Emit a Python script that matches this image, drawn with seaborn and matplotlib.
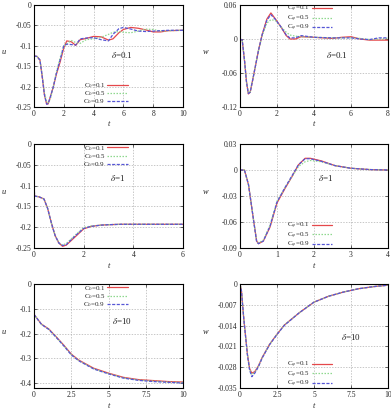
import numpy as np
import pandas as pd
import matplotlib
matplotlib.use("Agg")
import matplotlib.pyplot as plt
from matplotlib.ticker import FormatStrFormatter
import seaborn as sns

# ---- data ----
c_values = ["0.1", "0.5", "0.9"]

# delta = 0.1, u
tA = [0, 0.2, 0.4, 0.55, 0.7, 0.85, 0.95, 1.1, 1.3, 1.5, 1.75, 2.0, 2.2, 2.5, 2.8, 3.1,
      3.5, 4.0, 4.5, 5.0, 5.3, 5.7, 6.0, 6.5, 7.0, 7.5, 8.0, 8.5, 9.0, 10.0]
uA_01 = [-0.125, -0.126, -0.135, -0.175, -0.22, -0.243, -0.242, -0.225, -0.2, -0.17, -0.14, -0.105,
         -0.088, -0.09, -0.099, -0.085, -0.082, -0.077, -0.078, -0.086, -0.083, -0.068, -0.06,
         -0.055, -0.057, -0.061, -0.066, -0.066, -0.063, -0.062]
uA_05 = [-0.125, -0.126, -0.135, -0.172, -0.215, -0.238, -0.239, -0.23, -0.2, -0.165, -0.13, -0.1,
         -0.095, -0.087, -0.092, -0.094, -0.085, -0.083, -0.079, -0.072, -0.067, -0.065, -0.067,
         -0.068, -0.064, -0.059, -0.06, -0.064, -0.063, -0.062]
uA_09 = [-0.125, -0.126, -0.135, -0.175, -0.22, -0.243, -0.242, -0.225, -0.2, -0.168, -0.135, -0.1,
         -0.096, -0.097, -0.098, -0.083, -0.081, -0.08, -0.085, -0.088, -0.072, -0.058, -0.055,
         -0.059, -0.064, -0.065, -0.064, -0.063, -0.062, -0.062]

# delta = 0.1, w
tB = [0, 0.12, 0.25, 0.35, 0.45, 0.55, 0.7, 0.85, 1.0, 1.2, 1.45, 1.67, 1.9, 2.2, 2.5, 2.7,
      3.0, 3.3, 4.0, 5.0, 5.5, 6.0, 6.5, 7.0, 7.5, 8.0]
wB_01 = [0, -0.002, -0.04, -0.075, -0.097, -0.094, -0.07, -0.045, -0.02, 0.008, 0.035, 0.046,
         0.036, 0.022, 0.006, 0.0, 0.0, 0.004, 0.003, 0.001, 0.003, 0.004, 0.0, -0.002, -0.002, -0.002]
wB_05 = [0, -0.002, -0.04, -0.075, -0.095, -0.093, -0.07, -0.045, -0.02, 0.006, 0.028, 0.034,
         0.033, 0.022, 0.012, 0.007, 0.005, 0.004, 0.003, 0.002, 0.002, 0.002, 0.001, -0.001, 0.0, 0.001]
wB_09 = [0, -0.002, -0.04, -0.076, -0.096, -0.094, -0.07, -0.045, -0.02, 0.008, 0.033, 0.043,
         0.035, 0.022, 0.007, 0.002, 0.002, 0.006, 0.003, 0.002, 0.002, 0.002, 0.0, -0.001, 0.002, 0.002]

# delta = 1, u
tC = [0, 0.02, 0.2, 0.4, 0.55, 0.7, 0.85, 1.0, 1.15, 1.3, 1.5, 1.75, 2.0, 2.3, 2.7, 3.0, 3.5, 4.0, 5.0, 6.0]
uC_01 = [-0.08, -0.125, -0.127, -0.132, -0.155, -0.19, -0.22, -0.238, -0.246, -0.243, -0.232,
         -0.218, -0.204, -0.198, -0.195, -0.194, -0.193, -0.193, -0.193, -0.193]
uC_05 = [-0.08, -0.125, -0.127, -0.132, -0.155, -0.19, -0.22, -0.237, -0.243, -0.239, -0.228,
         -0.214, -0.201, -0.197, -0.195, -0.194, -0.193, -0.193, -0.193, -0.193]
uC_09 = [-0.08, -0.125, -0.127, -0.132, -0.155, -0.19, -0.22, -0.238, -0.244, -0.242, -0.23,
         -0.216, -0.203, -0.198, -0.195, -0.194, -0.193, -0.193, -0.193, -0.193]

# delta = 1, w
tD = [0, 0.12, 0.23, 0.36, 0.45, 0.5, 0.63, 0.81, 1.0, 1.22, 1.4, 1.58, 1.76, 1.9, 2.2, 2.57, 3.0, 3.5, 4.0]
wD_01 = [0, 0, -0.017, -0.056, -0.082, -0.085, -0.082, -0.066, -0.038, -0.021, -0.008, 0.006,
         0.0135, 0.0135, 0.0105, 0.005, 0.002, 0.0005, 0]
wD_05 = [0, 0, -0.017, -0.056, -0.082, -0.084, -0.081, -0.064, -0.036, -0.02, -0.008, 0.004,
         0.0095, 0.011, 0.0095, 0.005, 0.002, 0.0005, 0]
wD_09 = [0, 0, -0.017, -0.056, -0.083, -0.085, -0.082, -0.065, -0.037, -0.02, -0.007, 0.006,
         0.013, 0.013, 0.01, 0.005, 0.002, 0.0005, 0]

# delta = 10, u
tE = [0, 0.5, 1, 1.5, 2, 2.5, 3, 4, 5, 6, 7, 8, 9, 10]
uE_01 = [-0.123, -0.162, -0.182, -0.214, -0.247, -0.283, -0.307, -0.34, -0.36, -0.377, -0.386, -0.39, -0.394, -0.396]
uE_05 = [-0.123, -0.163, -0.183, -0.215, -0.249, -0.285, -0.309, -0.342, -0.362, -0.379, -0.388, -0.392, -0.396, -0.398]
uE_09 = [-0.123, -0.163, -0.184, -0.216, -0.25, -0.286, -0.31, -0.343, -0.363, -0.38, -0.389, -0.394, -0.397, -0.4]

# delta = 10, w
tF = [0, 0.1, 0.25, 0.5, 0.65, 0.8, 1.0, 1.25, 1.5, 2, 2.5, 3, 4, 5, 6, 7, 8, 9, 10]
wF_01 = [0, -0.0024, -0.0114, -0.0236, -0.0285, -0.03, -0.0295, -0.0275, -0.0247, -0.0203, -0.0169,
         -0.0138, -0.0097, -0.0061, -0.0041, -0.0027, -0.0016, -0.0009, -0.0004]
wF_05 = [0, -0.0024, -0.0114, -0.0236, -0.0288, -0.0305, -0.0298, -0.0276, -0.0248, -0.0203, -0.0169,
         -0.0138, -0.0097, -0.0061, -0.0041, -0.0027, -0.0016, -0.0009, -0.0004]
wF_09 = [0, -0.0024, -0.0114, -0.0238, -0.029, -0.0312, -0.03, -0.0278, -0.0249, -0.0204, -0.017,
         -0.0139, -0.0097, -0.0061, -0.0041, -0.0027, -0.0016, -0.0009, -0.0004]

# axis ticks per panel
xticksA, yticksA = [0, 2, 4, 6, 8, 10], [0, -0.05, -0.1, -0.15, -0.2, -0.25]
xticksB, yticksB = [0, 2, 4, 6, 8], [0.06, 0, -0.06, -0.12]
xticksC, yticksC = [0, 2, 4, 6], [0, -0.05, -0.1, -0.15, -0.2, -0.25]
xticksD, yticksD = [0, 1, 2, 3, 4], [0.03, 0, -0.03, -0.06, -0.09]
xticksE, yticksE = [0, 2.5, 5, 7.5, 10], [0, -0.1, -0.2, -0.3, -0.4]
xticksF, yticksF = [0, 2.5, 5, 7.5, 10], [0, -0.007, -0.014, -0.021, -0.028, -0.035]

# ---- style ----
sns.set_theme(style="ticks")
plt.rcParams['font.family'] = ['Liberation Serif', 'DejaVu Serif']
plt.rcParams['mathtext.fontset'] = 'stix'
plt.rcParams['xtick.direction'] = 'in'
plt.rcParams['ytick.direction'] = 'in'

palette = {"0.1": "#e5484b", "0.5": "#8fd88f", "0.9": "#5656d6"}
dashes = {"0.1": "", "0.5": (1.2, 1.2), "0.9": (2.5, 1.2)}

fig = plt.figure(figsize=(3.91, 4.11), dpi=100)

W, H = 391.0, 411.0
def add_axes(px0, px1, py0, py1):
    return fig.add_axes([px0 / W, 1 - py1 / H, (px1 - px0) / W, (py1 - py0) / H])

panels = [
    # t, series, xlim, ylim, xticks, yticks, ylabel, subscript, legend pos, delta text, delta pos, box
    (tA, [uA_01, uA_05, uA_09], (0, 10), (-0.25, 0), xticksA, yticksA, 'u', '0', (0.48, 0.13), r'$\delta$=0.1', (0.59, 0.51), (34, 183, 5, 107)),
    (tB, [wB_01, wB_05, wB_09], (0, 8), (-0.12, 0.06), xticksB, yticksB, 'w', r'\varphi', (0.47, 0.865), r'$\delta$=0.1', (0.655, 0.51), (240, 388, 5, 107)),
    (tC, [uC_01, uC_05, uC_09], (0, 6), (-0.25, 0), xticksC, yticksC, 'u', '0', (0.48, 0.88), r'$\delta$=1', (0.56, 0.673), (34, 183, 144, 248)),
    (tD, [wD_01, wD_05, wD_09], (0, 4), (-0.09, 0.03), xticksD, yticksD, 'w', r'\varphi', (0.47, 0.12), r'$\delta$=1', (0.578, 0.673), (240, 388, 144, 248)),
    (tE, [uE_01, uE_05, uE_09], (0, 10), (-0.42, 0), xticksE, yticksE, 'u', '0', (0.48, 0.88), r'$\delta$=10', (0.587, 0.648), (34, 183, 284, 388)),
    (tF, [wF_01, wF_05, wF_09], (0, 10), (-0.035, 0), xticksF, yticksF, 'w', r'\varphi', (0.47, 0.13), r'$\delta$=10', (0.747, 0.486), (240, 388, 284, 388)),
]

for t, series, xlim, ylim, xt, yt, ylab, sub, legpos, dtext, dpos, box in panels:
    ax = add_axes(*box)
    df = pd.concat([pd.DataFrame({'t': t, 'val': s, 'C': c}) for s, c in zip(series, c_values)])
    sns.lineplot(data=df, x='t', y='val', hue='C', style='C', palette=palette, dashes=dashes,
                 estimator=None, linewidth=0.9, legend=False, ax=ax)
    ax.set_xlim(*xlim)
    ax.set_ylim(*ylim)
    ax.set_xticks(xt)
    ax.set_yticks(yt)
    ax.xaxis.set_major_formatter(FormatStrFormatter('%g'))
    ax.yaxis.set_major_formatter(FormatStrFormatter('%g'))
    ax.tick_params(labelsize=5.5, length=2.5, width=0.5, pad=2, top=True, right=True)
    ax.grid(True, color='#b0b0b0', linestyle=(0, (2, 2)), linewidth=0.5)
    for sp in ax.spines.values():
        sp.set_linewidth(0.8)
        sp.set_color('black')
    ax.set_xlabel('t', fontsize=6, fontstyle='italic')
    ax.set_ylabel(ylab, fontsize=6, fontstyle='italic', rotation=0)
    ax.yaxis.set_label_coords(-0.2 if ylab == 'u' else -0.23, 0.5)
    ax.xaxis.set_label_coords(0.5, -0.13)
    labels = ['C$_{' + sub + '}$=' + c for c in c_values]
    ax.legend(ax.lines[:3], labels, loc='center', bbox_to_anchor=legpos, fontsize=5,
              frameon=False, markerfirst=False, handlelength=2.9, handletextpad=0.3,
              labelspacing=-0.1, borderpad=0.1)
    ax.text(dpos[0], dpos[1], dtext, transform=ax.transAxes, ha='center', va='center', fontsize=6.5)

fig.savefig('out.png', dpi=100)
